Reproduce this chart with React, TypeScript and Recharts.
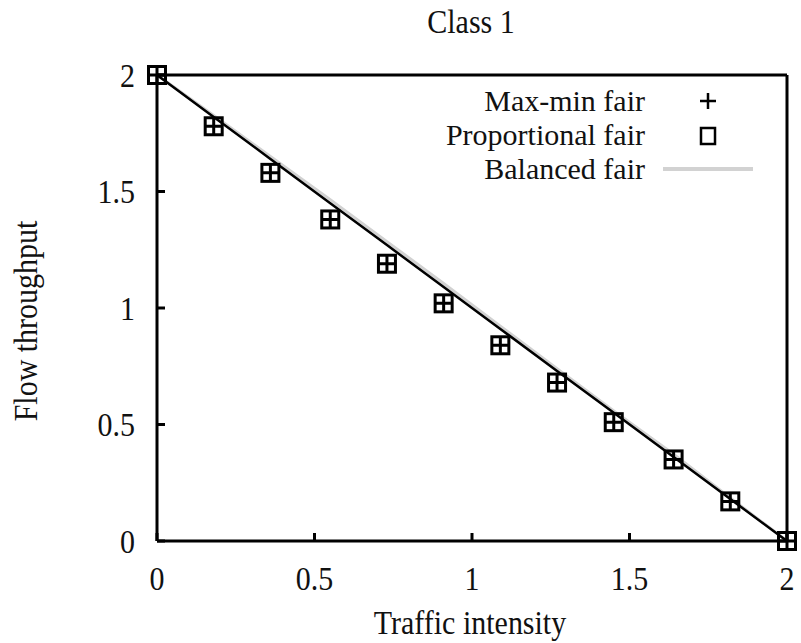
import { LineChart, Line, XAxis, YAxis, Legend } from "recharts";

// traffic intensity at which each policy was evaluated
const intensity = [0, 0.18, 0.36, 0.55, 0.73, 0.91, 1.09, 1.27, 1.45, 1.64, 1.82, 2];
const maxMinFair = [2, 1.78, 1.58, 1.38, 1.19, 1.02, 0.84, 0.68, 0.51, 0.35, 0.17, 0];
const proportionalFair = [2, 1.78, 1.58, 1.38, 1.19, 1.02, 0.84, 0.68, 0.51, 0.35, 0.17, 0];
const balancedFair = [2, 1.826, 1.65, 1.465, 1.285, 1.105, 0.922, 0.74, 0.558, 0.372, 0.185, 0];
// unlabelled straight reference line
const fluidLimit = [2, 1.82, 1.64, 1.45, 1.27, 1.09, 0.91, 0.73, 0.55, 0.36, 0.18, 0];

const xTicks = [0, 0.5, 1, 1.5, 2];
const yTicks = [0, 0.5, 1, 1.5, 2];

const data = intensity.map((x, i) => ({
  x,
  maxmin: maxMinFair[i],
  prop: proportionalFair[i],
  balanced: balancedFair[i],
  fluid: fluidLimit[i],
}));

const FONT = '"Liberation Serif", "Times New Roman", serif';
const INK = "#111";
const GREY = "#d2d2d2";
const STRETCH = 1.15; // the postscript font is a touch taller than Liberation Serif

const frame = { stroke: "#000", strokeWidth: 3 };

// text anchored at its baseline and stretched vertically about that baseline
function TallText({
  x,
  y,
  anchor = "middle",
  rotate = 0,
  children,
}: {
  x: number;
  y: number;
  anchor?: "start" | "middle" | "end";
  rotate?: number;
  children: React.ReactNode;
}) {
  return (
    <text
      x={0}
      y={0}
      transform={`translate(${x},${y}) rotate(${rotate}) scale(1,${STRETCH})`}
      textAnchor={anchor}
      fontSize={30}
      fontFamily={FONT}
      fill={INK}
    >
      {children}
    </text>
  );
}

function BottomTick(props: any) {
  const { x, y, payload } = props;
  return (
    <TallText x={x} y={y + 23}>
      {String(payload.value)}
    </TallText>
  );
}

function LeftTick(props: any) {
  const { x, y, payload } = props;
  return (
    <TallText x={x} y={y + 11.5} anchor="end">
      {String(payload.value)}
    </TallText>
  );
}

function PlusDot(props: any) {
  const { cx, cy, index } = props;
  const h = 8.5;
  return (
    <path
      key={`plus-${index}`}
      d={`M${cx - h},${cy}H${cx + h}M${cx},${cy - h}V${cy + h}`}
      stroke="#000"
      strokeWidth={3}
      fill="none"
    />
  );
}

function SquareDot(props: any) {
  const { cx, cy, index } = props;
  const h = 8.5;
  return (
    <rect
      key={`sq-${index}`}
      x={cx - h}
      y={cy - h}
      width={h * 2}
      height={h * 2}
      stroke="#000"
      strokeWidth={3}
      fill="none"
    />
  );
}

const legendItems = [
  { name: "Max-min fair", kind: "plus" },
  { name: "Proportional fair", kind: "square" },
  { name: "Balanced fair", kind: "line" },
];

function LegendSymbol({ kind }: { kind: string }) {
  return (
    <svg width={110} height={34}>
      {kind === "plus" && (
        <path d="M47,17H63M55,9V25" stroke="#000" strokeWidth={2.5} fill="none" />
      )}
      {kind === "square" && (
        <rect x={48} y={10} width={14} height={16} stroke="#000" strokeWidth={2.5} fill="none" />
      )}
      {kind === "line" && <line x1={10} x2={100} y1={17} y2={17} stroke={GREY} strokeWidth={4} />}
    </svg>
  );
}

function KeyBox() {
  return (
    <div style={{ fontFamily: FONT, fontSize: 30, color: INK }}>
      {legendItems.map((it) => (
        <div key={it.name} style={{ display: "flex", alignItems: "center", height: 34 }}>
          <span
            style={{
              display: "block",
              width: 247,
              lineHeight: "34px",
              textAlign: "right",
              whiteSpace: "nowrap",
            }}
          >
            {it.name}
          </span>
          <span style={{ width: 8 }} />
          <LegendSymbol kind={it.kind} />
        </div>
      ))}
    </div>
  );
}

export default function App() {
  return (
    <div style={{ position: "absolute", left: 0, top: 0, background: "#fff" }}>
      <LineChart
        width={801}
        height={643}
        data={data}
        margin={{ top: 74, right: 13, bottom: 0, left: 0 }}
        style={{ fontFamily: FONT }}
      >
        <XAxis
          dataKey="x"
          type="number"
          domain={[0, 2]}
          ticks={xTicks}
          interval={0}
          height={102}
          tickSize={-8}
          tickMargin={34}
          tick={BottomTick}
          tickLine={frame}
          axisLine={frame}
          label={{
            content: () => (
              <TallText x={470} y={634}>
                Traffic intensity
              </TallText>
            ),
          }}
        />
        <XAxis
          xAxisId="top"
          orientation="top"
          dataKey="x"
          type="number"
          domain={[0, 2]}
          ticks={xTicks}
          interval={0}
          height={1}
          tickSize={-8}
          tick={false}
          tickLine={frame}
          axisLine={frame}
          label={{
            content: () => (
              <TallText x={471} y={33}>
                Class 1
              </TallText>
            ),
          }}
        />
        <YAxis
          type="number"
          domain={[0, 2]}
          ticks={yTicks}
          interval={0}
          width={157}
          tickSize={-8}
          tickMargin={30}
          tick={LeftTick}
          tickLine={frame}
          axisLine={frame}
          label={{
            content: () => (
              <TallText x={37} y={321} rotate={-90}>
                Flow throughput
              </TallText>
            ),
          }}
        />
        <YAxis
          yAxisId="right"
          orientation="right"
          type="number"
          domain={[0, 2]}
          ticks={yTicks}
          interval={0}
          width={1}
          tickSize={-8}
          tick={false}
          tickLine={frame}
          axisLine={frame}
        />
        <Legend
          layout="horizontal"
          verticalAlign="middle"
          align="center"
          content={() => <KeyBox />}
          wrapperStyle={{ position: "absolute", top: 84, left: 398, width: 380 }}
        />
        <Line
          dataKey="balanced"
          stroke={GREY}
          strokeWidth={3}
          dot={false}
          activeDot={false}
          isAnimationActive={false}
        />
        {/* reference line, plotted against the mirrored top/right axes */}
        <Line
          xAxisId="top"
          yAxisId="right"
          dataKey="fluid"
          stroke="#000"
          strokeWidth={2.5}
          dot={false}
          activeDot={false}
          isAnimationActive={false}
        />
        <Line
          dataKey="prop"
          stroke="none"
          dot={SquareDot}
          activeDot={false}
          isAnimationActive={false}
        />
        <Line
          dataKey="maxmin"
          stroke="none"
          dot={PlusDot}
          activeDot={false}
          isAnimationActive={false}
        />
      </LineChart>
    </div>
  );
}
